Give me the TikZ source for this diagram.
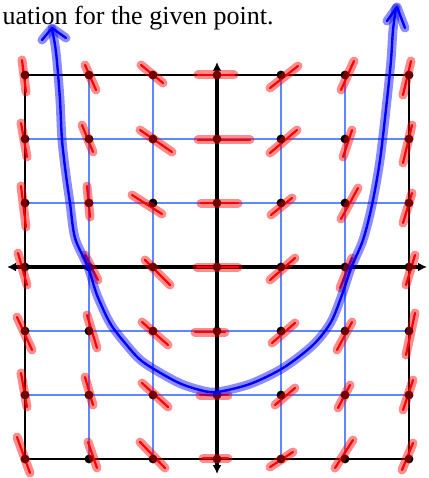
\documentclass[tikz,border=0pt]{standalone}
\usepackage{fontspec}
\setmainfont{Liberation Serif}
\usetikzlibrary{arrows.meta}
\definecolor{gridblue}{RGB}{95,135,255}
\begin{document}
\begin{tikzpicture}[x=1pt,y=-1pt,
  gridline/.style={gridblue, line width=1.6pt},
  border/.style={black, line width=2.6pt},
  axis/.style={black, line width=4pt, -{Latex[length=9pt,width=9pt]}},
  dot/.style={black},
  redcore/.style={red, line width=2.2pt, line cap=round},
  redhalo/.style={red, opacity=0.45, line width=9pt, line cap=round},
  bluemark/.style={blue, line width=2.4pt, line cap=round, line join=round,
    preaction={draw, blue, opacity=0.45, line width=9pt, line cap=round, line join=round}},
  titletext/.style={anchor=base west, inner sep=0pt, font=\fontsize{26}{30}\selectfont}
]
\useasboundingbox (0,0) rectangle (428,478);

% title text
\node[titletext] (title) at (2.5,25) {uation for the given point.};

% light blue grid
\foreach \x in {89,153,281,345} \draw[gridline] (\x,75) -- (\x,459);
\foreach \y in {139,203,331,395} \draw[gridline] (25,\y) -- (409,\y);

% outer border
\draw[border] (25,75) rectangle (409,459);

% axes
\draw[axis] (217,267) -- (427,267);
\draw[axis] (217,267) -- (7,267);
\draw[axis] (217,267) -- (217,62);
\draw[axis] (217,267) -- (217,474);

\def\marklist{
  22/60/26/92, 85/65/96/90, 141/65/163/83, 198/75/234/75, 270/88/298/66, 341/90/354/61, 403/95/411/61,
  21/123/27/157, 82/125/93/152, 140/130/172/152, 198/140/250/140, 270/153/297/130, 343/157/352/130, 403/163/412/125,
  21/186/26/227, 87/186/90/217, 132/195/162/214, 201/203/238/203, 271/215/292/198, 341/219/358/188, 403/223/412/193,
  18/253/27/285, 85/255/98/280, 145/260/170/285, 197/267/238/267, 270/280/295/258, 340/288/352/258, 406/285/415/255,
  17/317/32/350, 87/315/97/348, 142/322/168/345, 195/332/225/332, 272/343/295/323, 337/350/352/322, 406/355/415/313,
  21/373/27/407, 85/377/93/405, 142/383/168/407, 200/395/228/395, 275/405/295/388, 338/408/350/385, 403/410/413/380,
  17/437/30/473, 88/442/97/468, 140/442/165/468, 203/458/228/458, 270/467/293/452, 335/468/353/440, 402/470/413/443}

% slope marks: core strokes
\foreach \a/\b/\c/\d in \marklist \draw[redcore] (\a,\b) -- (\c,\d);

% grid points
\foreach \x in {25,89,153,217,281,345,409}
  \foreach \y in {75,139,203,267,331,395,459}
    \fill[dot] (\x,\y) circle (4.4pt);

% slope marks: translucent highlighter
\foreach \a/\b/\c/\d in \marklist \draw[redhalo] (\a,\b) -- (\c,\d);

% solution curve
\draw[bluemark] plot[smooth, tension=0.5] coordinates {
  (52,29) (55,45) (57,62) (60,100) (62,140) (66,175) (70,203) (75,238) (88,267)
  (97,295) (110,323) (125,343) (143,362) (177,382) (200,390) (217,392) (250,384)
  (283,368) (313,345) (331,322) (343,292) (351,268) (363,240) (372,205) (380,160)
  (387,100) (391,60) (393,30) (396,8)};
\draw[bluemark] (42,40) -- (52,28) -- (66,38);
\draw[bluemark] (387,21) -- (397,7) -- (405,28);
\end{tikzpicture}
\end{document}
